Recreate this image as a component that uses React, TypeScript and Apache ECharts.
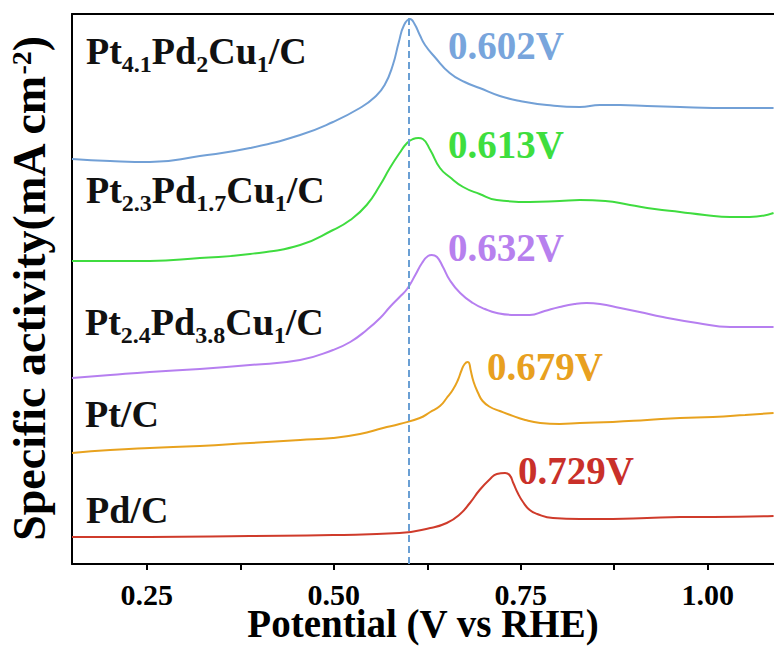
import React, { useEffect, useRef } from "react";
import * as echarts from "echarts";

// ---- data (x: potential in V vs RHE, y: specific activity, arbitrary offset units) ----
const ptPdCuAX = [0.150, 0.201, 0.254, 0.321, 0.388, 0.455, 0.499, 0.535, 0.555, 0.568, 0.579, 0.587, 0.594, 0.602, 0.608, 0.615, 0.622, 0.635, 0.655, 0.675, 0.695, 0.722, 0.749, 0.785, 0.829, 0.856, 0.883, 0.919, 0.963, 1.007, 1.088];
const ptPdCuAY = [40.5, 40.3, 40.2, 40.8, 41.6, 42.9, 44.2, 45.6, 46.7, 47.9, 49.9, 52.2, 53.9, 54.5, 54.0, 52.9, 51.9, 50.7, 49.1, 48.2, 47.6, 46.8, 46.3, 45.9, 45.7, 45.9, 45.9, 45.8, 45.7, 45.6, 45.6];

const ptPdCuBX = [0.150, 0.201, 0.254, 0.321, 0.388, 0.455, 0.499, 0.522, 0.544, 0.562, 0.575, 0.588, 0.598, 0.606, 0.613, 0.619, 0.629, 0.642, 0.655, 0.673, 0.695, 0.718, 0.762, 0.802, 0.829, 0.863, 0.896, 0.929, 0.963, 0.996, 1.030, 1.056, 1.088];
const ptPdCuBY = [30.3, 30.3, 30.3, 30.6, 31.0, 31.9, 33.4, 34.4, 35.9, 37.9, 39.6, 41.1, 42.1, 42.5, 42.6, 42.5, 41.4, 39.6, 38.7, 37.7, 37.0, 36.4, 36.2, 36.3, 36.4, 36.3, 35.9, 35.5, 35.2, 34.9, 34.7, 34.7, 35.1];

const ptPdCuCX = [0.150, 0.201, 0.254, 0.321, 0.388, 0.455, 0.499, 0.522, 0.544, 0.562, 0.575, 0.588, 0.598, 0.609, 0.618, 0.626, 0.631, 0.638, 0.646, 0.655, 0.669, 0.686, 0.702, 0.718, 0.742, 0.762, 0.782, 0.802, 0.822, 0.838, 0.856, 0.883, 0.909, 0.940, 0.986, 1.030, 1.088];
const ptPdCuCY = [18.6, 18.9, 19.2, 19.5, 19.9, 20.4, 21.4, 22.2, 23.4, 24.6, 25.7, 26.7, 27.5, 28.9, 30.1, 30.8, 30.9, 30.7, 29.7, 28.4, 27.1, 26.1, 25.5, 25.1, 24.9, 24.9, 25.3, 25.7, 26.0, 26.1, 26.0, 25.6, 25.2, 24.7, 24.1, 23.7, 23.7];

const ptCX = [0.150, 0.201, 0.254, 0.321, 0.388, 0.455, 0.499, 0.535, 0.566, 0.588, 0.615, 0.629, 0.642, 0.651, 0.659, 0.666, 0.671, 0.675, 0.679, 0.681, 0.683, 0.687, 0.693, 0.699, 0.709, 0.722, 0.736, 0.756, 0.776, 0.802, 0.829, 0.873, 0.919, 0.963, 1.007, 1.050, 1.088];
const ptCY = [11.1, 11.4, 11.6, 11.8, 12.1, 12.4, 12.6, 13.0, 13.6, 14.0, 14.6, 15.2, 15.8, 16.6, 17.4, 18.4, 19.4, 20.0, 20.2, 20.1, 19.4, 18.2, 17.1, 16.3, 15.7, 15.3, 14.9, 14.4, 14.1, 14.0, 14.1, 14.2, 14.4, 14.6, 14.7, 14.9, 15.1];

const pdCX = [0.150, 0.254, 0.388, 0.499, 0.588, 0.629, 0.651, 0.669, 0.682, 0.695, 0.709, 0.718, 0.729, 0.735, 0.740, 0.746, 0.753, 0.762, 0.772, 0.793, 0.829, 0.873, 0.919, 0.963, 1.007, 1.088];
const pdCY = [2.7, 2.7, 2.8, 2.9, 3.1, 3.6, 4.1, 5.0, 6.1, 7.4, 8.5, 9.0, 9.1, 8.9, 8.1, 7.1, 6.2, 5.4, 5.0, 4.6, 4.5, 4.5, 4.6, 4.7, 4.7, 4.8];

const seriesNames = ["Pt4.1Pd2Cu1/C", "Pt2.3Pd1.7Cu1/C", "Pt2.4Pd3.8Cu1/C", "Pt/C", "Pd/C"];
const seriesRichNames = [
  "{m|Pt}{s|4.1}{m|Pd}{s|2}{m|Cu}{s|1}{m|/C}",
  "{m|Pt}{s|2.3}{m|Pd}{s|1.7}{m|Cu}{s|1}{m|/C}",
  "{m|Pt}{s|2.4}{m|Pd}{s|3.8}{m|Cu}{s|1}{m|/C}",
  "{m|Pt/C}",
  "{m|Pd/C}",
];
const peakLabels = ["0.602V", "0.613V", "0.632V", "0.679V", "0.729V"];
const dashedX = 0.602;
const xTickValues = [0.25, 0.375, 0.5, 0.625, 0.75, 0.875, 1.0];
const xLabelValues = [0.25, 0.5, 0.75, 1.0];
const xMin = 0.15;
const xMax = 1.0886;
const yMin = 0;
const yMax = 55;

// ---- styles ----
const FONT = "'Liberation Serif', 'Times New Roman', serif";
const lineColors = ["#72a0d6", "#3fdc3f", "#b67ff0", "#e8a21e", "#cf3b2b"];
const labelColors = ["#78a5dc", "#3ede3e", "#b780ee", "#e8a020", "#c9302a"];
const namePos = [
  [86, 51],
  [86, 190],
  [85, 322],
  [85, 414],
  [86, 510],
];
const peakPos = [
  [448, 45],
  [448, 144],
  [448, 247],
  [487, 366],
  [518, 470],
];

const zip = (xs: number[], ys: number[]) => xs.map((x, i) => [x, ys[i]]);

export default function App() {
  const ref = useRef<HTMLDivElement>(null);

  useEffect(() => {
    if (!ref.current) return;
    const chart = echarts.init(ref.current, undefined, { renderer: "svg" });
    const datasets = [
      zip(ptPdCuAX, ptPdCuAY),
      zip(ptPdCuBX, ptPdCuBY),
      zip(ptPdCuCX, ptPdCuCY),
      zip(ptCX, ptCY),
      zip(pdCX, pdCY),
    ];

    const series: any[] = datasets.map((d, i) => ({
      name: seriesNames[i],
      type: "line",
      data: d,
      xAxisIndex: 0,
      yAxisIndex: 0,
      showSymbol: false,
      symbol: "none",
      smooth: 0.5,
      lineStyle: { color: lineColors[i], width: 2 },
      itemStyle: { color: lineColors[i] },
      z: 3,
      markLine:
        i === 0
          ? {
              silent: true,
              symbol: ["none", "none"],
              label: { show: false },
              lineStyle: { type: [7, 4], color: "#6a9fd4", width: 2 },
              data: [{ xAxis: dashedX }],
            }
          : undefined,
    }));

    const graphics: any[] = [];
    seriesRichNames.forEach((t, i) => {
      graphics.push({
        type: "text",
        x: namePos[i][0],
        y: namePos[i][1],
        z: 10,
        style: {
          text: t,
          fill: "#111",
          fontFamily: FONT,
          fontWeight: "bold",
          fontSize: 38,
          align: "left",
          verticalAlign: "middle",
          rich: {
            m: { fontSize: 38, fontFamily: FONT, fontWeight: "bold", fill: "#111" },
            s: { fontSize: 24, fontFamily: FONT, fontWeight: "bold", fill: "#111", padding: [25, 0, 0, 0] },
          },
        },
      });
    });
    peakLabels.forEach((t, i) => {
      graphics.push({
        type: "text",
        x: peakPos[i][0],
        y: peakPos[i][1],
        z: 10,
        style: {
          text: t,
          fill: labelColors[i],
          fontFamily: FONT,
          fontWeight: "bold",
          fontSize: 39,
          align: "left",
          verticalAlign: "middle",
        },
      });
    });

    chart.setOption({
      animation: false,
      backgroundColor: "#ffffff",
      grid: { left: 72, right: 0, top: 14, bottom: 84, show: false, containLabel: false, outerBoundsMode: "none" },
      xAxis: [
        {
          type: "value",
          position: "bottom",
          min: xMin,
          max: xMax,
          name: "Potential (V vs RHE)",
          nameLocation: "middle",
          nameGap: 44,
          nameMoveOverlap: false,
          nameTextStyle: { fontFamily: FONT, fontWeight: "bold", fontSize: 39, lineHeight: 30, color: "#000" },
          axisLine: { show: true, onZero: false, lineStyle: { color: "#000", width: 2 } },
          axisTick: { show: true, inside: false, length: 6, customValues: xTickValues, lineStyle: { color: "#000", width: 2 } },
          axisLabel: {
            show: true,
            customValues: xLabelValues,
            margin: 18,
            formatter: (v: number) => v.toFixed(2),
            fontFamily: FONT,
            fontWeight: "bold",
            fontSize: 30,
            lineHeight: 24,
            color: "#000",
          },
          splitLine: { show: false },
        },
        {
          type: "value",
          position: "top",
          min: xMin,
          max: xMax,
          axisLine: { show: true, onZero: false, lineStyle: { color: "#000", width: 2 } },
          axisTick: { show: false },
          axisLabel: { show: false },
          splitLine: { show: false },
        },
      ],
      yAxis: [
        {
          type: "value",
          min: yMin,
          max: yMax,
          name: "{n|Specific activity(mA cm}{sup|-2}{n|)}",
          nameLocation: "middle",
          nameGap: 20,
          nameMoveOverlap: false,
          nameTextStyle: {
            fontFamily: FONT,
            fontWeight: "bold",
            fontSize: 46,
            color: "#000",
            rich: {
              n: { fontFamily: FONT, fontWeight: "bold", fontSize: 46, color: "#000" },
              sup: { fontFamily: FONT, fontWeight: "bold", fontSize: 28, color: "#000", padding: [0, 0, 16, 0] },
            },
          },
          axisLine: { show: true, onZero: false, lineStyle: { color: "#000", width: 2 } },
          axisTick: { show: false },
          axisLabel: { show: false },
          splitLine: { show: false },
        },
      ],
      series,
      graphic: graphics,
    });

    return () => chart.dispose();
  }, []);

  return (
    <div
      ref={ref}
      style={{ position: "fixed", left: 0, top: 0, width: 774, height: 648, background: "#fff" }}
    />
  );
}
